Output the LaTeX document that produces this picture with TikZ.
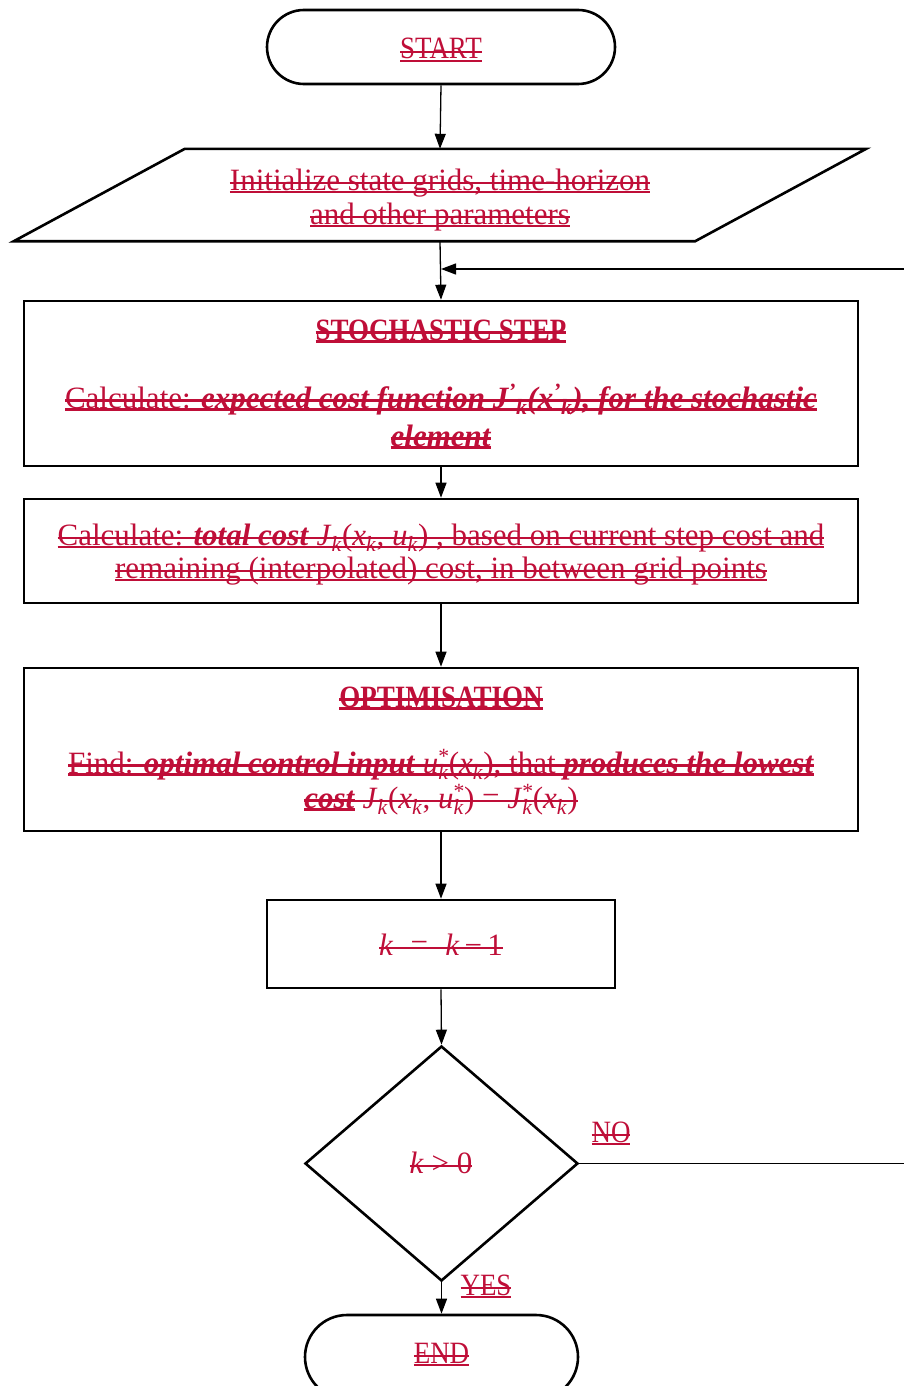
\documentclass[tikz,border=0pt]{standalone}
\usepackage{fontspec}
\setmainfont{Liberation Serif}
\usetikzlibrary{arrows.meta,shapes.misc,shapes.geometric,calc}
\definecolor{tcred}{RGB}{191,14,56}
% tracked-change style text: underline + strike-through
\newcommand\tc[2][0.055em]{\setbox0=\hbox{#2}\leavevmode
  \rlap{\color{tcred}\rule[-0.09em]{\wd0}{#1}}%
  \rlap{\color{tcred}\rule[0.2em]{\wd0}{#1}}\box0}
% strike-through only
\newcommand\ts[2][0.055em]{\setbox0=\hbox{#2}\leavevmode
  \rlap{\color{tcred}\rule[0.2em]{\wd0}{#1}}\box0}
\newcommand\bi[1]{\textbf{\textit{#1}}}
\newcommand\sub[1]{\textsubscript{\textit{#1}}}
\newcommand\stk[2]{\rlap{\textsuperscript{#1}}\textsubscript{\textit{#2}}}
% narrower capitals for headings and labels
\newcommand\caps[1]{\scalebox{0.87}[1]{#1}}
\begin{document}
\begin{tikzpicture}[x=1pt,y=-1pt,
  shapeline/.style={draw=black,line width=2.6pt},
  conn/.style={draw=black,line width=1.3pt},
  arr/.style={conn,-{Triangle[length=15pt,width=11pt]}},
  txt/.style={text=tcred,inner sep=0pt,anchor=base,font=\fontsize{31}{36}\selectfont},
  term/.style={shapeline,rounded rectangle,inner sep=0pt},
  procbox/.style={shapeline,rectangle,inner sep=0pt},
]
\clip (0,0) rectangle (904,1386);
\fill[white] (0,0) rectangle (904,1386);

% shapes
\node[term,minimum width=348pt,minimum height=74pt] (start) at (441,47) {};
\node[inner sep=0pt,minimum width=852pt,minimum height=92pt] (init) at (440,195) {};
\draw[shapeline,line join=miter] (init.south west) -- ($(init.north west)+(171,0)$)
  -- (init.north east) -- ($(init.south east)+(-171,0)$) -- cycle;
\node[procbox,minimum width=834pt,minimum height=165pt] (stoch) at (441,383.5) {};
\node[procbox,minimum width=834pt,minimum height=104pt] (total) at (441,551) {};
\node[procbox,minimum width=834pt,minimum height=163pt] (optim) at (441,749.5) {};
\node[procbox,minimum width=348pt,minimum height=88pt] (dec) at (441,944) {};
\node[shapeline,diamond,inner sep=0pt,minimum width=273pt,minimum height=235pt] (test) at (441.5,1163.5) {};
\node[term,minimum width=273pt,minimum height=84pt] (end) at (441.5,1357) {};

% texts
\node[txt] (tstart) at (441,59) {\tc{\caps{START}}};
\node[txt] (tinit1) at (440,190) {\tc{Initialize state grids, time-horizon}};
\node[txt] (tinit2) at (440,224) {\tc{and other parameters}};
\node[txt] (tst1) at (441,340) {\tc[0.1em]{\caps{\textbf{STOCHASTIC STEP}}}};
\node[txt] (tst2) at (441,408) {\tc[0.08em]{Calculate: \bi{expected cost function J\textsuperscript{'}\sub{k}(x\textsuperscript{'}\sub{k}), for the stochastic}}};
\node[txt] (tst3) at (441,446) {\tc[0.1em]{\bi{element}}};
\node[txt] (ttot1) at (441,545) {\tc[0.07em]{Calculate: \bi{total cost} \textit{J}\sub{k}(\textit{x}\sub{k}, \textit{u}\sub{k}) , based on current step cost and}};
\node[txt] (ttot2) at (441,578) {\tc{remaining (interpolated) cost, in between grid points}};
\node[txt] (top1) at (441,707) {\tc[0.1em]{\caps{\textbf{OPTIMISATION}}}};
\node[txt] (top2) at (441,773) {\tc[0.08em]{Find: \bi{optimal control input} \textit{u}\stk{*}{k}(\textit{x}\sub{k}), that \bi{produces the lowest}}};
\node[txt] (top3) at (441,808) {\tc[0.1em]{\bi{cost}}\ts[0.07em]{ \textit{J}\sub{k}(\textit{x}\sub{k}, \textit{u}\stk{*}{k}) = \textit{J}\stk{*}{k}(\textit{x}\sub{k})}};
\node[txt] (tdec) at (441,955) {\ts{\textit{k}\;\;=\;\;\textit{k}\,−\,1}};
\node[txt] (ttest) at (441,1173) {\ts{\textit{k} > 0}};
\node[txt] (tno) at (611,1142) {\tc{\caps{NO}}};
\node[txt] (tyes) at (486,1295) {\tc{\caps{YES}}};
\node[txt] (tend) at (441.5,1363) {\tc{\caps{END}}};

% connectors
\coordinate (loopR) at (960,0);
\coordinate (merge) at (441,269);
\draw[arr] (start.south) -- (init.north);
\draw[arr] (init.south) -- (stoch.north);
\draw[arr] (stoch.south) -- (total.north);
\draw[arr] (total.south) -- (optim.north);
\draw[arr] (optim.south) -- (dec.north);
\draw[arr] (dec.south) -- (test.north);
\draw[arr] (test.south) -- (end.north);
\draw[arr] (test.east) -- (test.east -| loopR) -- (loopR |- merge) -- (merge);
\end{tikzpicture}
\end{document}
